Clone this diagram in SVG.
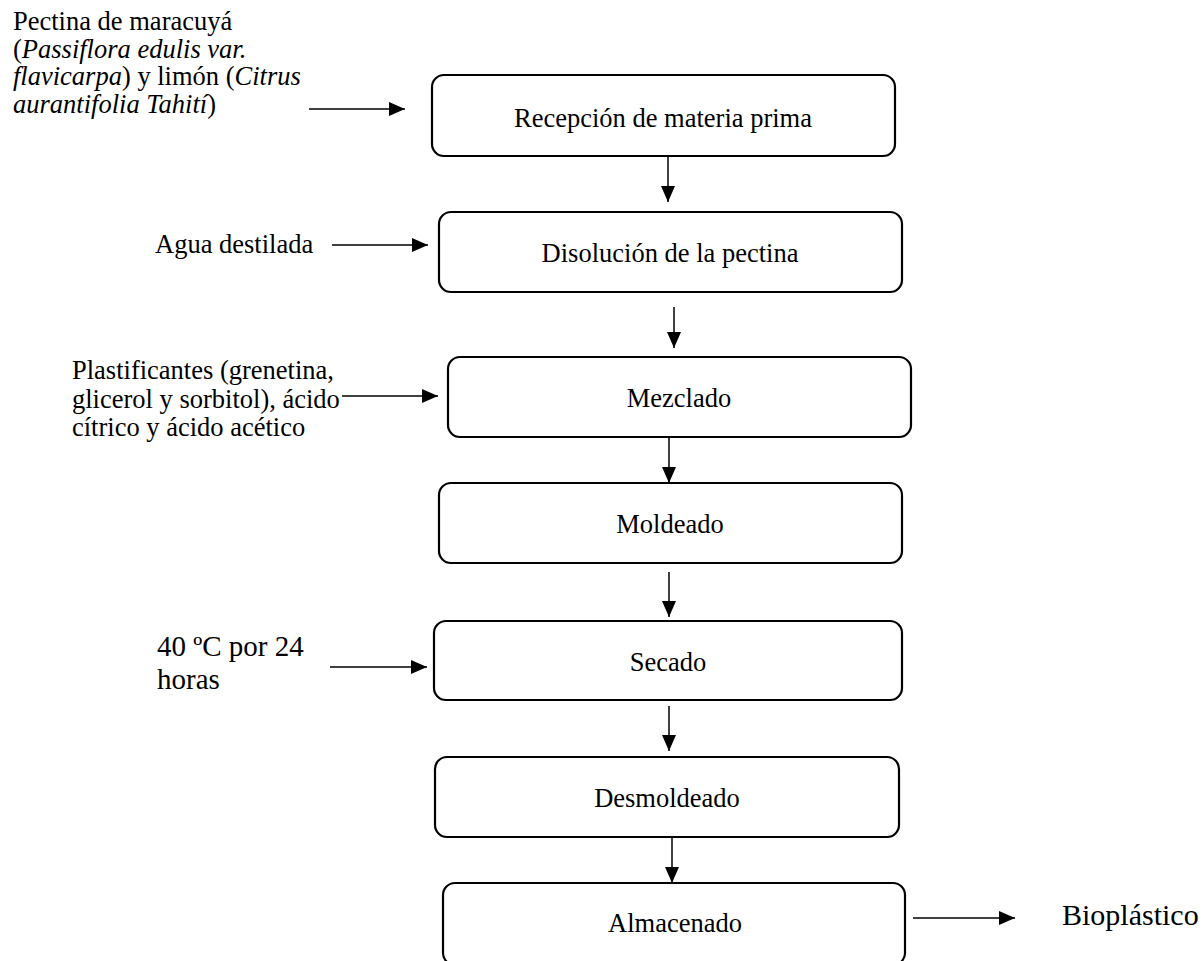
<svg xmlns="http://www.w3.org/2000/svg" width="1203" height="961" viewBox="0 0 1203 961">
<style>
.box{fill:#fff;stroke:#000;stroke-width:2.2}
.con{stroke:#000;stroke-width:1.5;fill:none;marker-end:url(#ah)}
text{font-family:"Liberation Serif","Times New Roman",serif;font-size:26.5px;fill:#000}
.lbl{text-anchor:middle}
.it{font-style:italic}
.big{font-size:29px}
</style>
<defs>
<marker id="ah" markerUnits="userSpaceOnUse" markerWidth="16" markerHeight="14" refX="16" refY="7" orient="auto">
<path d="M0,0 L16,7 L0,14 z" fill="#000"/>
</marker>
</defs>
<rect width="1203" height="961" fill="#fff"/>

<g id="n1"><rect class="box" x="432" y="75" width="463" height="81" rx="12"/><text class="lbl" x="663" y="127">Recepción de materia prima</text></g>
<g id="n2"><rect class="box" x="439" y="212" width="463" height="80" rx="12"/><text class="lbl" x="670" y="262">Disolución de la pectina</text></g>
<g id="n3"><rect class="box" x="448" y="357" width="463" height="80" rx="12"/><text class="lbl" x="679" y="407">Mezclado</text></g>
<g id="n4"><rect class="box" x="439" y="483" width="463" height="80" rx="12"/><text class="lbl" x="670" y="533">Moldeado</text></g>
<g id="n5"><rect class="box" x="434" y="621" width="468" height="79" rx="12"/><text class="lbl" x="668" y="671">Secado</text></g>
<g id="n6"><rect class="box" x="435" y="757" width="464" height="80" rx="12"/><text class="lbl" x="667" y="807">Desmoldeado</text></g>
<g id="n7"><rect class="box" x="443" y="883" width="462" height="82" rx="12"/><text class="lbl" x="675" y="932">Almacenado</text></g>

<g id="in1"><text><tspan x="13" y="30">Pectina de maracuyá</tspan><tspan x="13" y="57.5">(<tspan class="it">Passiflora edulis var.</tspan></tspan><tspan x="13" y="85"><tspan class="it">flavicarpa</tspan>) y limón (<tspan class="it">Citrus</tspan></tspan><tspan x="13" y="112.5"><tspan class="it">aurantifolia Tahití</tspan>)</tspan></text></g>
<g id="in2"><text x="155" y="253">Agua destilada</text></g>
<g id="in3"><text><tspan x="72" y="379">Plastificantes (grenetina,</tspan><tspan x="72" y="407.5">glicerol y sorbitol), ácido</tspan><tspan x="72" y="436">cítrico y ácido acético</tspan></text></g>
<g id="in4"><text class="big"><tspan x="157" y="656">40 ºC por 24</tspan><tspan x="157" y="689">horas</tspan></text></g>
<g id="out"><text x="1062" y="925" style="font-size:30px">Bioplástico</text></g>

<g id="connectors">
<line class="con" x1="668" y1="156" x2="668" y2="202"/>
<line class="con" x1="674" y1="307" x2="674" y2="348"/>
<line class="con" x1="669" y1="437" x2="669" y2="483"/>
<line class="con" x1="669" y1="572" x2="669" y2="617"/>
<line class="con" x1="669" y1="706" x2="669" y2="751"/>
<line class="con" x1="672" y1="837" x2="672" y2="883"/>
<line class="con" x1="309" y1="109" x2="405" y2="109"/>
<line class="con" x1="332" y1="245" x2="428" y2="245"/>
<line class="con" x1="342" y1="396" x2="438" y2="396"/>
<line class="con" x1="330" y1="667" x2="427" y2="667"/>
<line class="con" x1="913" y1="918" x2="1015" y2="918"/>
</g>
</svg>
